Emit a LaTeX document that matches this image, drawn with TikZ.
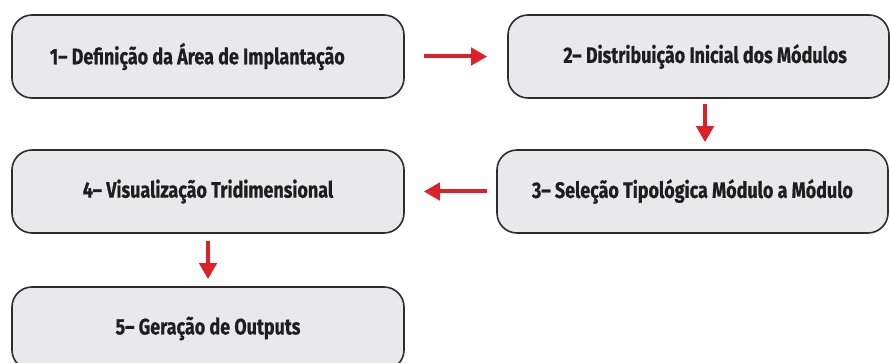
\documentclass[tikz,border=0pt]{standalone}
\usepackage{fontspec}
\setmainfont{Fira Sans}[FakeStretch=0.8, BoldFeatures={FakeBold=0.6}]
\usetikzlibrary{arrows.meta}

\definecolor{boxfill}{RGB}{233,233,235}
\definecolor{boxline}{RGB}{45,45,45}
\definecolor{flowred}{RGB}{222,32,40}
\definecolor{boxtext}{RGB}{30,30,30}

\tikzset{every picture/.style={line width=0.75pt}}
\tikzset{
  etapa/.style={draw=boxline, fill=boxfill, line width=1.2pt, rounded corners=15pt,
    minimum height=62.25pt, inner sep=0pt, text=boxtext,
    font=\fontsize{16.8}{20}\selectfont\bfseries},
  fluxo/.style={draw=flowred, line width=3pt, -{Triangle[length=12pt,width=12.75pt]}}
}

\begin{document}
\begin{tikzpicture}[x=0.75pt,y=0.75pt,yscale=-1,xscale=1]

\clip (0,0) rectangle (890,363);
\fill[white] (0,0) rectangle (890,363);

\node [etapa, minimum width=294pt] (e1) at (208,56.5) {\hspace*{-16pt}1-- Definição da Área de Implantação};
\node [etapa, minimum width=285.75pt] (e2) at (698.5,56.5) {\hspace*{10pt}2-- Distribuição Inicial dos Módulos};
\node [etapa, minimum width=293.25pt] (e3) at (692.5,191.5) {3-- Seleção Tipológica Módulo a Módulo};
\node [etapa, minimum width=294pt] (e4) at (208,191.5) {4-- Visualização Tridimensional};
\node [etapa, minimum width=294pt] (e5) at (208,328.5) {5-- Geração de Outputs};

\draw [fluxo, shorten <=14.25pt, shorten >=15pt] (e1.east) -- (e2.west |- e1.east);
\draw [fluxo, shorten <=3.75pt, shorten >=5.25pt] ([xshift=4.9pt]e2.south) -- ([xshift=4.9pt]e2.south |- e3.north);
\draw [fluxo, shorten <=6.75pt, shorten >=14.25pt] (e3.west) -- (e4.east |- e3.west);
\draw [fluxo, shorten <=5.25pt, shorten >=5.25pt] (e4.south) -- (e5.north);

\end{tikzpicture}
\end{document}
